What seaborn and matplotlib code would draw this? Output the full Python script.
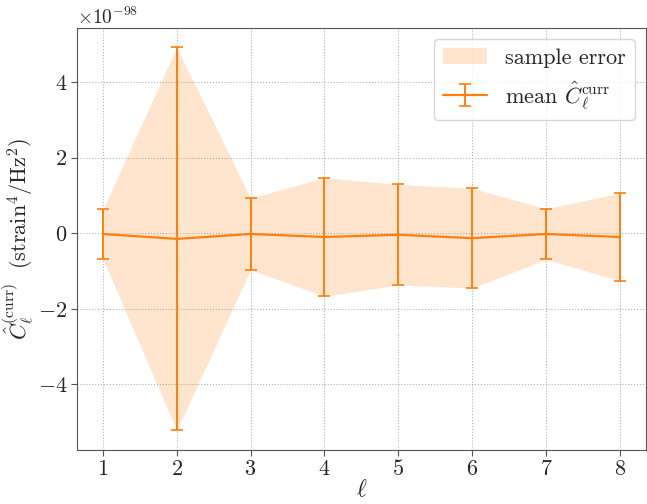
import seaborn as sns
import matplotlib
matplotlib.use("Agg")
import matplotlib.pyplot as plt
import pandas as pd

# multipole index and mean C_ell^curr estimates (units of 1e-98)
ell = [1, 2, 3, 4, 5, 6, 7, 8]
mean_c = [-0.02, -0.15, -0.02, -0.10, -0.04, -0.13, -0.02, -0.10]
sample_err = [0.65, 5.07, 0.95, 1.57, 1.33, 1.32, 0.67, 1.16]
scale = 1e-98

df = pd.DataFrame({"ell": ell, "mean": mean_c, "err": sample_err})
df["mean"] = df["mean"] * scale
df["err"] = df["err"] * scale

sns.set_style("whitegrid", {
    "grid.linestyle": ":",
    "grid.color": "#b0b0b0",
    "axes.edgecolor": "#555555",
    "xtick.bottom": True,
    "ytick.left": True,
})
plt.rcParams["font.family"] = "serif"
plt.rcParams["font.serif"] = ["cmr10", "DejaVu Serif"]
plt.rcParams["mathtext.fontset"] = "cm"
plt.rcParams["axes.formatter.use_mathtext"] = True
plt.rcParams["axes.unicode_minus"] = True

orange = sns.color_palette()[1]

fig, ax = plt.subplots(figsize=(6.47, 5.04), dpi=100)
ax.fill_between(df["ell"], df["mean"] - df["err"], df["mean"] + df["err"],
                color=orange, alpha=0.2, linewidth=0, label="sample error")
ax.errorbar(df["ell"], df["mean"], yerr=df["err"], color=orange,
            linewidth=1.6, elinewidth=1.4, capsize=4, capthick=1.2,
            label=r"mean $\hat{C}_\ell^{\rm curr}$")

ax.set_xticks(ell)
ax.tick_params(labelsize=16, length=4, pad=3, color="#555555")
ax.yaxis.get_offset_text().set_fontsize(14)
ax.set_xlabel(r"$\ell$", fontsize=17, labelpad=0)
ax.set_ylabel(r"$\hat{C}_\ell^{(\rm curr)}\ \ (\mathrm{strain}^4/\mathrm{Hz}^2)$",
              fontsize=16, labelpad=2)
ax.grid(True, linestyle=":", color="#b0b0b0")
ax.legend(loc="upper right", fontsize=16, frameon=True)

plt.subplots_adjust(left=0.119, right=0.998, top=0.944, bottom=0.108)
plt.savefig("out.png", dpi=100)
